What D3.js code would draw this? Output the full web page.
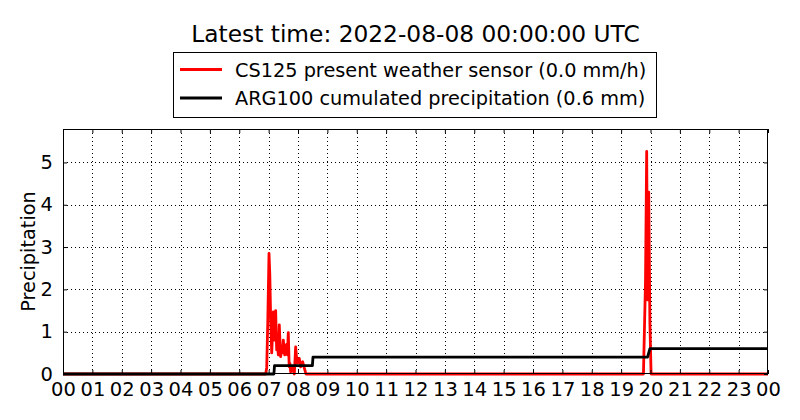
<!DOCTYPE html>
<html><head><meta charset="utf-8">
<script src="https://cdn.jsdelivr.net/npm/d3@7"></script>
<style>
html,body{margin:0;padding:0;background:#fff;}
svg{display:block;font-family:"DejaVu Sans",sans-serif;}
</style></head>
<body>
<svg id="chart" width="800" height="420"></svg>
<script>
const titleText = "Latest time: 2022-08-08 00:00:00 UTC";
const seriesNames = ["CS125 present weather sensor (0.0 mm/h)", "ARG100 cumulated precipitation (0.6 mm)"];
const yLabel = "Precipitation";
const xTickHours = [0,1,2,3,4,5,6,7,8,9,10,11,12,13,14,15,16,17,18,19,20,21,22,23,24];
const xTickLabels = ["00","01","02","03","04","05","06","07","08","09","10","11","12","13","14","15","16","17","18","19","20","21","22","23","00"];
const yTicks = [0,1,2,3,4,5];
const yMax = 5.79;

// CS125 rain rate (mm/h), hour of day
const redHours  = [0, 6.90, 6.935, 6.97, 7.013, 7.04, 7.07, 7.105, 7.13, 7.16, 7.19, 7.215, 7.24, 7.26, 7.275, 7.30, 7.33, 7.363, 7.39, 7.41, 7.44, 7.47, 7.50, 7.525, 7.547, 7.58, 7.61, 7.64, 7.67, 7.70, 7.725, 7.75, 7.785, 7.82, 7.85, 7.874, 7.90, 7.92, 7.95, 7.976, 8.01, 8.044, 8.07, 8.09, 8.13, 8.16, 8.19, 8.215, 8.24, 8.27, 19.76, 19.83, 19.87, 19.90, 19.94, 19.98, 20.02, 24];
const redValues = [0, 0, 0.15, 1.2, 2.85, 2.35, 1.3, 0.5, 0.9, 1.47, 0.8, 1.05, 1.5, 0.9, 0.57, 0.75, 0.45, 1.16, 0.7, 0.41, 0.6, 0.5, 0.8, 0.6, 0.45, 0.55, 0.7, 0.45, 0.98, 0.17, 0.25, 0.05, 0.1, 0.17, 0.05, 0, 0.35, 0.64, 0.4, 0.26, 0.3, 0.37, 0.25, 0.17, 0.22, 0.29, 0.2, 0.14, 0.08, 0, 0, 2.2, 5.26, 1.75, 4.3, 1.2, 0, 0];

// ARG100 cumulated precipitation (mm)
const blackHours  = [0, 7.18, 7.20, 8.49, 8.51, 19.90, 19.98, 24];
const blackValues = [0, 0, 0.2, 0.2, 0.4, 0.4, 0.6, 0.6];

const colors = ["#ff0000", "#000000"];

const m = {left:63, right:768, top:129, bottom:374};
const svg = d3.select("#chart");
const x = d3.scaleLinear().domain([0,24]).range([m.left, m.right]);
const y = d3.scaleLinear().domain([0,yMax]).range([m.bottom, m.top]);

// grid
const grid = svg.append("g");
grid.selectAll("line.gx").data(xTickHours.slice(1,-1)).enter().append("line")
  .attr("x1", d=>Math.round(x(d))+0.5).attr("x2", d=>Math.round(x(d))+0.5).attr("y1", m.top).attr("y2", m.bottom)
  .attr("stroke","#000").attr("stroke-width",1).attr("stroke-dasharray","1,3");
grid.selectAll("line.gy").data(yTicks.slice(1)).enter().append("line")
  .attr("y1", d=>Math.round(y(d))+0.5).attr("y2", d=>Math.round(y(d))+0.5).attr("x1", m.left).attr("x2", m.right)
  .attr("stroke","#000").attr("stroke-width",1).attr("stroke-dasharray","1,3");

// series
const redData = redHours.map((h,i)=>[h, redValues[i]]);
const blackData = blackHours.map((h,i)=>[h, blackValues[i]]);
const line = d3.line().x(d=>x(d[0])).y(d=>y(d[1]));
const plot = svg.append("g");
plot.append("path").datum(redData).attr("d", line).attr("fill","none")
  .attr("stroke", colors[0]).attr("stroke-width",2.8).attr("stroke-linejoin","round");
plot.append("path").datum(blackData).attr("d", line).attr("fill","none")
  .attr("stroke", colors[1]).attr("stroke-width",2.8).attr("stroke-linejoin","round");

// axes (ticks inside on all four sides)
const tickLen = 4;
const fmt = (d,i)=>xTickLabels[i];
const xb = svg.append("g").attr("transform",`translate(0,${m.bottom})`)
  .call(d3.axisBottom(x).tickValues(xTickHours).tickSizeInner(-tickLen).tickSizeOuter(0).tickPadding(8).tickFormat(fmt));
const xt = svg.append("g").attr("transform",`translate(0,${m.top})`)
  .call(d3.axisTop(x).tickValues(xTickHours).tickSizeInner(-tickLen).tickSizeOuter(0).tickFormat(""));
const yl = svg.append("g").attr("transform",`translate(${m.left},0)`)
  .call(d3.axisLeft(y).tickValues(yTicks).tickSizeInner(-tickLen).tickSizeOuter(0).tickPadding(10).tickFormat(d3.format("d")));
const yr = svg.append("g").attr("transform",`translate(${m.right},0)`)
  .call(d3.axisRight(y).tickValues(yTicks).tickSizeInner(-tickLen).tickSizeOuter(0).tickFormat(""));
[xb,xt,yl,yr].forEach(g=>{
  g.select(".domain").remove();
  g.selectAll(".tick line").attr("stroke","#000").attr("stroke-width",1);
  g.selectAll("text").attr("font-family","DejaVu Sans").attr("font-size","19.5px").attr("fill","#000");
});
xb.selectAll("text").attr("dy","0.71em");

// frame
svg.append("rect").attr("x",m.left+0.5).attr("y",m.top+0.5)
  .attr("width",m.right-m.left-1).attr("height",m.bottom-m.top-1)
  .attr("fill","none").attr("stroke","#000").attr("stroke-width",1);

// y label
svg.append("text").attr("transform",`translate(35,${(m.top+m.bottom)/2}) rotate(-90)`)
  .attr("text-anchor","middle").attr("font-size","19.3px").attr("fill","#000").text(yLabel);

// title
svg.append("text").attr("x",(m.left+m.right)/2).attr("y",42).attr("text-anchor","middle")
  .attr("font-size","23.3px").attr("fill","#000").text(titleText);

// legend
const lg = svg.append("g");
lg.append("rect").attr("x",173.5).attr("y",52.5).attr("width",483).attr("height",65)
  .attr("fill","#fff").attr("stroke","#000").attr("stroke-width",1);
seriesNames.forEach((name,i)=>{
  const yy = 69.5 + i*28.5;
  lg.append("line").attr("x1",180).attr("x2",222).attr("y1",yy).attr("y2",yy)
    .attr("stroke",colors[i]).attr("stroke-width",2.8);
  lg.append("text").attr("x",235).attr("y",77+i*28).attr("font-size","19.3px").attr("fill","#000").text(name);
});
</script>
</body></html>
